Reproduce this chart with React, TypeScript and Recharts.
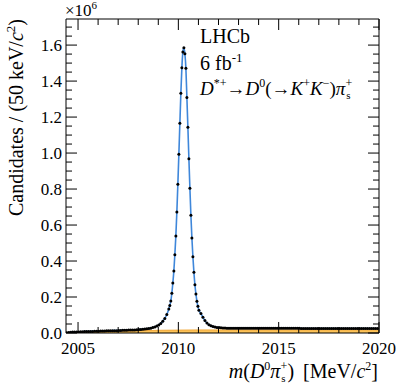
import React from 'react';
import { ComposedChart, XAxis, YAxis, Line, Scatter, Area } from 'recharts';

// Bin centres in MeV/c^2 (50 keV bins near the peak, every other bin shown in the tails)
const massBins = [
  2004.425, 2004.525, 2004.625, 2004.725, 2004.825, 2004.925, 2005.025, 2005.125, 2005.225, 2005.325,
  2005.425, 2005.525, 2005.625, 2005.725, 2005.825, 2005.925, 2006.025, 2006.125, 2006.225, 2006.325,
  2006.425, 2006.525, 2006.625, 2006.725, 2006.825, 2006.925, 2007.025, 2007.125, 2007.225, 2007.325,
  2007.425, 2007.525, 2007.625, 2007.725, 2007.825, 2007.925, 2008.025, 2008.125, 2008.225, 2008.325,
  2008.425, 2008.525, 2008.625, 2008.725, 2008.825, 2008.925, 2009.025, 2009.125, 2009.225, 2009.325,
  2009.425, 2009.525,
  2009.575, 2009.625, 2009.675, 2009.725, 2009.775, 2009.825, 2009.875, 2009.925, 2009.975, 2010.025,
  2010.075, 2010.125, 2010.175, 2010.225, 2010.275, 2010.325, 2010.375, 2010.425, 2010.475, 2010.525,
  2010.575, 2010.625, 2010.675, 2010.725, 2010.775, 2010.825, 2010.875, 2010.925, 2010.975, 2011.025,
  2011.125, 2011.225, 2011.325, 2011.425, 2011.525, 2011.625, 2011.725, 2011.825, 2011.925, 2012.025,
  2012.125, 2012.225, 2012.325, 2012.425, 2012.525, 2012.625, 2012.725, 2012.825, 2012.925, 2013.025,
  2013.125, 2013.225, 2013.325, 2013.425, 2013.525, 2013.625, 2013.725, 2013.825, 2013.925, 2014.025,
  2014.125, 2014.225, 2014.325, 2014.425, 2014.525, 2014.625, 2014.725, 2014.825, 2014.925, 2015.025,
  2015.125, 2015.225, 2015.325, 2015.425, 2015.525, 2015.625, 2015.725, 2015.825, 2015.925, 2016.025,
  2016.125, 2016.225, 2016.325, 2016.425, 2016.525, 2016.625, 2016.725, 2016.825, 2016.925, 2017.025,
  2017.125, 2017.225, 2017.325, 2017.425, 2017.525, 2017.625, 2017.725, 2017.825, 2017.925, 2018.025,
  2018.125, 2018.225, 2018.325, 2018.425, 2018.525, 2018.625, 2018.725, 2018.825, 2018.925, 2019.025,
  2019.125, 2019.225, 2019.325, 2019.425, 2019.525, 2019.625, 2019.725, 2019.825, 2019.925,
];

// Candidates per bin, in units of 10^6
const candidates = [
  0.001, 0.003, 0.004, 0.005, 0.005, 0.006, 0.006, 0.007, 0.007, 0.008,
  0.008, 0.008, 0.009, 0.009, 0.010, 0.010, 0.010, 0.011, 0.011, 0.011,
  0.012, 0.012, 0.012, 0.013, 0.013, 0.013, 0.014, 0.014, 0.015, 0.015,
  0.015, 0.016, 0.016, 0.017, 0.017, 0.018, 0.019, 0.020, 0.021, 0.022,
  0.023, 0.025, 0.027, 0.030, 0.034, 0.039, 0.045, 0.053, 0.065, 0.081,
  0.103, 0.133,
  0.153, 0.178, 0.221, 0.278, 0.344, 0.435, 0.539, 0.672, 0.826, 0.993,
  1.165, 1.332, 1.474, 1.561, 1.585, 1.552, 1.471, 1.309, 1.143, 0.968,
  0.804, 0.654, 0.528, 0.424, 0.337, 0.268, 0.217, 0.176, 0.148, 0.126,
  0.108, 0.087, 0.069, 0.055, 0.046, 0.040, 0.036, 0.033, 0.031, 0.030,
  0.029, 0.028, 0.028, 0.027, 0.027, 0.027, 0.026, 0.026, 0.026, 0.026,
  0.026, 0.026, 0.026, 0.026, 0.026, 0.026, 0.026, 0.026, 0.026, 0.026,
  0.026, 0.026, 0.026, 0.026, 0.026, 0.026, 0.026, 0.026, 0.026, 0.026,
  0.026, 0.026, 0.026, 0.026, 0.026, 0.026, 0.026, 0.026, 0.026, 0.026,
  0.025, 0.025, 0.025, 0.025, 0.025, 0.025, 0.025, 0.025, 0.025, 0.025,
  0.025, 0.025, 0.025, 0.025, 0.025, 0.025, 0.025, 0.025, 0.025, 0.025,
  0.025, 0.025, 0.025, 0.025, 0.025, 0.025, 0.025, 0.025, 0.025, 0.025,
  0.025, 0.025, 0.025, 0.025, 0.025, 0.025, 0.025, 0.025, 0.025,
];

// Background component (units of 10^6)
const bgMass = [2004.4, 2004.6, 2005, 2005.5, 2006, 2007, 2008, 2009, 2010, 2011, 2013, 2016, 2020];
const bgLevel = [0, 0.002, 0.004, 0.006, 0.008, 0.011, 0.013, 0.015, 0.016, 0.017, 0.017, 0.017, 0.017];

const xTicks = [2005, 2006, 2007, 2008, 2009, 2010, 2011, 2012, 2013, 2014, 2015, 2016, 2017, 2018, 2019, 2020];
const yTicks = Array.from({ length: 35 }, (_, i) => Math.round(i * 5) / 100);

const dataRows = massBins.map((m, i) => ({ m, c: candidates[i] }));
const bgRows = bgMass.map((m, i) => ({ m, bg: bgLevel[i] }));

const FONT = 'Liberation Serif, Times New Roman, DejaVu Serif, serif';
const MAJ = 11;
const MIN = 6;
const isMajorX = (v: number) => v % 5 === 0;
const isMajorY = (v: number) => Math.abs(v * 5 - Math.round(v * 5)) < 1e-6;

const BottomTick = (p: any) => {
  const v = p.payload.value;
  const major = isMajorX(v);
  return (
    <g>
      <line x1={p.x} x2={p.x} y1={p.y} y2={p.y - (major ? MAJ : MIN)} stroke="#000" strokeWidth={1} />
      {major && (
        <text x={p.x} y={p.y + 21} textAnchor="middle" fontSize={17} fontFamily={FONT} fill="#000">
          {v}
        </text>
      )}
    </g>
  );
};
const TopTick = (p: any) => {
  const v = p.payload.value;
  return <line x1={p.x} x2={p.x} y1={p.y} y2={p.y + (isMajorX(v) ? MAJ : MIN)} stroke="#000" strokeWidth={1} />;
};
const LeftTick = (p: any) => {
  const v = p.payload.value;
  const major = isMajorY(v);
  return (
    <g>
      <line x1={p.x} x2={p.x + (major ? MAJ : MIN)} y1={p.y} y2={p.y} stroke="#000" strokeWidth={1} />
      {major && (
        <text x={p.x - 4} y={p.y + 5.8} textAnchor="end" fontSize={17} fontFamily={FONT} fill="#000">
          {v.toFixed(1)}
        </text>
      )}
    </g>
  );
};
const RightTick = (p: any) => {
  const v = p.payload.value;
  return <line x1={p.x} x2={p.x - (isMajorY(v) ? MAJ : MIN)} y1={p.y} y2={p.y} stroke="#000" strokeWidth={1} />;
};

const Dot = (p: any) => <circle cx={p.cx} cy={p.cy} r={1.5} fill="#000" />;

export default function App() {
  return (
    <div style={{ position: 'absolute', left: 0, top: 0, width: 399, height: 389, background: '#fff' }}>
      <ComposedChart
        width={399}
        height={389}
        data={dataRows}
        margin={{ top: 18, right: 19, bottom: 55, left: 65 }}
      >
        <Area
          data={bgRows}
          xAxisId="x"
          yAxisId="y"
          dataKey="bg"
          type="monotone"
          fill="#fcc35a"
          fillOpacity={1}
          stroke="#f2a93b"
          strokeWidth={1}
          isAnimationActive={false}
          dot={false}
          activeDot={false}
        />
        <Line
          xAxisId="x"
          yAxisId="y"
          dataKey="c"
          type="monotone"
          stroke="#3f87da"
          strokeWidth={1.6}
          dot={false}
          activeDot={false}
          isAnimationActive={false}
        />
        <Scatter
          data={dataRows}
          xAxisId="x"
          yAxisId="y"
          dataKey="c"
          shape={Dot}
          isAnimationActive={false}
        />
        <XAxis
          xAxisId="x"
          dataKey="m"
          type="number"
          domain={[2004.4, 2020]}
          allowDataOverflow
          ticks={xTicks}
          interval={0}
          height={1}
          tickSize={0}
          tickMargin={0}
          tickLine={false}
          axisLine={{ stroke: '#000', strokeWidth: 1 }}
          tick={BottomTick}
        />
        <XAxis
          xAxisId="top"
          orientation="top"
          dataKey="m"
          type="number"
          domain={[2004.4, 2020]}
          allowDataOverflow
          ticks={xTicks}
          interval={0}
          height={1}
          tickSize={0}
          tickMargin={0}
          tickLine={false}
          axisLine={{ stroke: '#000', strokeWidth: 1 }}
          tick={TopTick}
        />
        <YAxis
          yAxisId="y"
          type="number"
          domain={[0, 1.745]}
          allowDataOverflow
          ticks={yTicks}
          interval={0}
          width={1}
          tickSize={0}
          tickMargin={0}
          tickLine={false}
          axisLine={{ stroke: '#000', strokeWidth: 1 }}
          tick={LeftTick}
        />
        <YAxis
          yAxisId="right"
          orientation="right"
          type="number"
          domain={[0, 1.745]}
          allowDataOverflow
          ticks={yTicks}
          interval={0}
          width={1}
          tickSize={0}
          tickMargin={0}
          tickLine={false}
          axisLine={{ stroke: '#000', strokeWidth: 1 }}
          tick={RightTick}
        />
      </ComposedChart>
      <svg
        width={399}
        height={389}
        style={{ position: 'absolute', left: 0, top: 0, pointerEvents: 'none' }}
        fontFamily={FONT}
        fill="#000"
      >
        <text x={65} y={16} fontSize={17}>
          ×10<tspan dy={-7} fontSize={11}>6</tspan>
        </text>
        <text x={200} y={43} fontSize={20}>LHCb</text>
        <text x={200} y={70} fontSize={20}>
          6 fb<tspan dy={-8} fontSize={13}>-1</tspan>
        </text>
        <text x={200} y={95} fontSize={19}>
          <tspan fontStyle="italic">D</tspan>
          <tspan dy={-8} fontSize={12}>*+</tspan>
          <tspan dy={8}>→</tspan>
          <tspan fontStyle="italic">D</tspan>
          <tspan dy={-8} fontSize={12}>0</tspan>
          <tspan dy={8}>(→</tspan>
          <tspan fontStyle="italic">K</tspan>
          <tspan dy={-8} fontSize={12}>+</tspan>
          <tspan dy={8} fontStyle="italic">K</tspan>
          <tspan dy={-8} fontSize={12}>−</tspan>
          <tspan dy={8}>)</tspan>
          <tspan fontStyle="italic">π</tspan>
          <tspan dy={-8} fontSize={12}>+</tspan>
          <tspan dx={-6} dy={12} fontSize={11}>s</tspan>
        </text>
        <text x={378} y={378} fontSize={20} textAnchor="end">
          <tspan fontStyle="italic">m</tspan>
          <tspan>(</tspan>
          <tspan fontStyle="italic">D</tspan>
          <tspan dy={-8} fontSize={12}>0</tspan>
          <tspan dy={8} fontStyle="italic">π</tspan>
          <tspan dy={-8} fontSize={12}>+</tspan>
          <tspan dx={-6} dy={12} fontSize={11}>s</tspan>
          <tspan dy={-4} dx={2}>)</tspan>
          <tspan dx={9}>[MeV/</tspan>
          <tspan fontStyle="italic">c</tspan>
          <tspan dy={-8} fontSize={12}>2</tspan>
          <tspan dy={8}>]</tspan>
        </text>
        <text transform="rotate(-90)" x={-19} y={23} fontSize={20} textAnchor="end">
          Candidates / (50 keV/<tspan fontStyle="italic">c</tspan>
          <tspan dy={-8} fontSize={13}>2</tspan>
          <tspan dy={8}>)</tspan>
        </text>
      </svg>
    </div>
  );
}
